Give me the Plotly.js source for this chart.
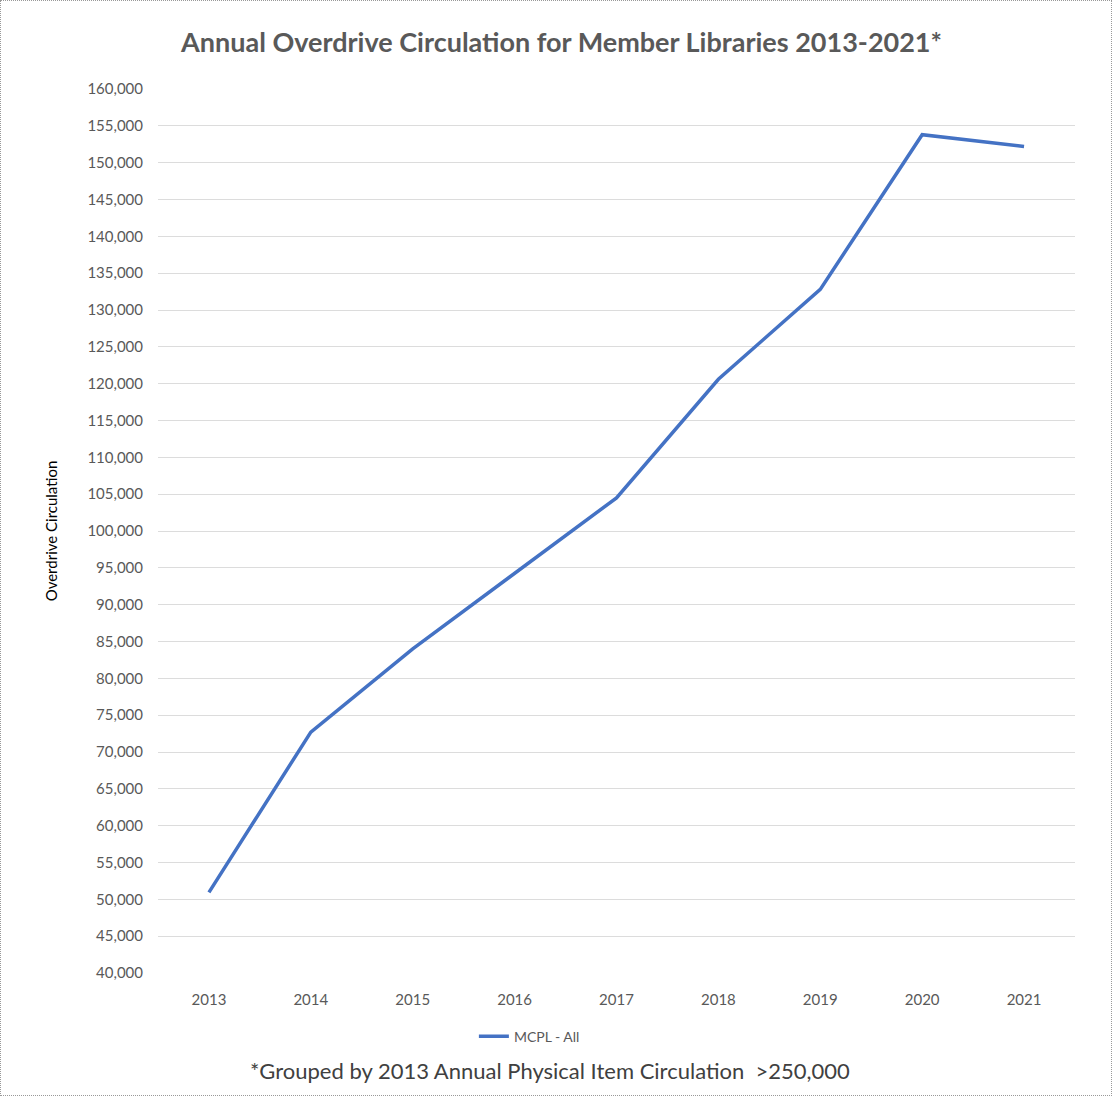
<!DOCTYPE html>
<html>
<head>
<meta charset="utf-8">
<script src="https://cdn.plot.ly/plotly-3.0.1.min.js"></script>
<style>
html,body{margin:0;padding:0;background:#fff;}
#chart{width:1110px;height:1094px;border:1px dotted #999;}
</style>
</head>
<body>
<div id="chart"></div>
<script>
const years = ["2013","2014","2015","2016","2017","2018","2019","2020","2021"];
const mcplAll = [50950, 72700, 84000, 94300, 104500, 120600, 132800, 153800, 152200];
const seriesName = "MCPL - All";
const titleText = "Annual Overdrive Circulation for Member Libraries 2013-2021*";
const yTitle = "Overdrive Circulation";
const footnote = "*Grouped by 2013 Annual Physical Item Circulation  >250,000";

const trace = {
  x: years, y: mcplAll, type: "scatter", mode: "lines", name: seriesName,
  line: {color: "#4472C4", width: 3.5}
};
const layout = {
  width: 1110, height: 1094,
  margin: {l: 157, r: 36, t: 88, b: 122},
  paper_bgcolor: "#fff", plot_bgcolor: "#fff",
  font: {family: "Lato, 'Open Sans', sans-serif", color: "#595959"},
  title: {text: "<b>" + titleText + "</b>", x: 0.505, xanchor: "center", y: 0.962, yanchor: "middle",
          font: {size: 27, color: "#595959", family: "Lato, 'Open Sans', sans-serif"}},
  xaxis: {type: "category", range: [-0.5, 8.5], showgrid: false, zeroline: false, showline: false,
          ticks: "", ticklabelstandoff: 16, tickfont: {size: 15, color: "#595959"}},
  yaxis: {range: [40000, 160000], dtick: 5000, tick0: 40000, tickformat: ",d",
          showgrid: true, gridcolor: "#dcdcdc", gridwidth: 1, zeroline: false,
          ticks: "", tickfont: {size: 15, color: "#595959"}, ticklabelstandoff: 14,
          title: {text: yTitle, font: {size: 15, color: "#000"}, standoff: 26}},
  showlegend: true,
  legend: {orientation: "h", x: 0.405, xanchor: "center", y: -0.072, yanchor: "middle",
           font: {size: 14, color: "#595959"}},
  annotations: [{text: footnote, xref: "paper", yref: "paper", x: 0.428, y: -0.11,
                 xanchor: "center", yanchor: "middle", showarrow: false,
                 font: {size: 22, color: "#404040"}}]
};
Plotly.newPlot("chart", [trace], layout, {displayModeBar: false, staticPlot: true});
</script>
</body>
</html>
